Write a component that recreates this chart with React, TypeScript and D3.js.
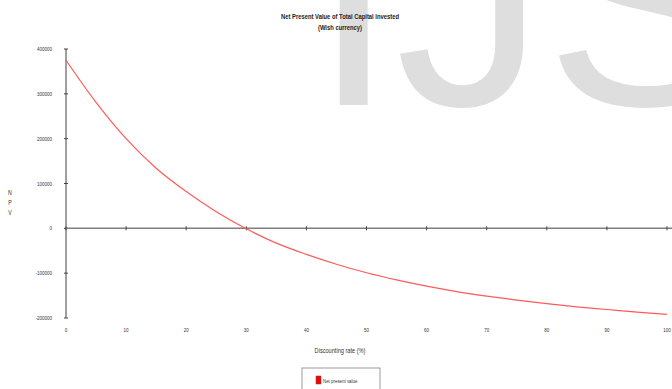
import React from "react";
import * as d3 from "d3";

// Discounting rate (%) and the corresponding net present value
const rates = [0, 5, 10, 15, 20, 25, 30, 35, 40, 45, 50, 55, 60, 65, 70, 75, 80, 85, 90, 95, 100];
const npv = [
  375000, 281000, 200000, 134000, 82000, 37000, -1000, -33000, -58000, -80000,
  -99000, -115000, -129000, -141000, -151000, -160000, -168000, -175000, -181000, -187000, -192000,
];
const xTicks = [0, 10, 20, 30, 40, 50, 60, 70, 80, 90, 100];
const yTicks = [400000, 300000, 200000, 100000, 0, -100000, -200000];

const title1 = "Net Present Value of Total Capital Invested";
const title2 = "(Wish currency)";
const xTitle = "Discounting rate (%)";
const yTitle = ["N", "P", "V"];
const seriesName = "Net present value";

const W = 672;
const H = 389;
const FONT = "'Liberation Sans', Arial, sans-serif";

// Condensed text: the face is squeezed horizontally around its anchor point
function NarrowText(props: {
  x: number;
  y: number;
  size: number;
  anchor?: "start" | "middle" | "end";
  weight?: string;
  fill?: string;
  sx?: number;
  children: React.ReactNode;
}) {
  const { x, y, size, anchor = "start", weight = "normal", fill = "#333", sx = 0.8, children } = props;
  return (
    <text
      transform={`translate(${x},${y}) scale(${sx},1)`}
      textAnchor={anchor}
      fontFamily={FONT}
      fontSize={size}
      fontWeight={weight}
      fill={fill}
    >
      {children}
    </text>
  );
}

export default function App() {
  const x = d3.scaleLinear().domain([0, 100]).range([66, 667]);
  const y = d3.scaleLinear().domain([-200000, 400000]).range([318, 49]);
  const line = d3
    .line<number>()
    .x((_, i) => x(rates[i]))
    .y((d) => y(d))
    .curve(d3.curveMonotoneX);
  const axisColor = "#7f7f7f";

  return (
    <svg
      width={W}
      height={H}
      viewBox={`0 0 ${W} ${H}`}
      style={{ position: "fixed", left: 0, top: 0, background: "#fff" }}
    >
      {/* watermark */}
      <g fill="#dedede" fontFamily={FONT} fontSize={300}>
        <text x={312} y={105}>IJS</text>
      </g>

      {/* title */}
      <NarrowText x={340} y={19} size={7.5} anchor="middle" weight="bold" fill="#222" sx={0.78}>
        {title1}
      </NarrowText>
      <NarrowText x={340} y={30} size={7.5} anchor="middle" weight="bold" fill="#222" sx={0.78}>
        {title2}
      </NarrowText>

      {/* y axis */}
      <line x1={x(0)} x2={x(0)} y1={y(400000)} y2={y(-200000)} stroke={axisColor} strokeWidth={1.5} />
      {yTicks.map((t) => (
        <g key={t}>
          <line x1={x(0) - 2} x2={x(0) + 2} y1={y(t)} y2={y(t)} stroke="#444" strokeWidth={1} />
          <NarrowText x={52} y={y(t) + 2} size={6} anchor="end" sx={0.75}>
            {t}
          </NarrowText>
        </g>
      ))}

      {/* x axis along zero */}
      <line x1={x(0)} x2={W} y1={y(0)} y2={y(0)} stroke={axisColor} strokeWidth={1.5} />
      {xTicks.map((t) => (
        <g key={t}>
          <line x1={x(t)} x2={x(t)} y1={y(0) - 2} y2={y(0) + 2} stroke="#444" strokeWidth={1} />
          <NarrowText x={x(t)} y={332} size={6} anchor="middle" sx={0.75}>
            {t}
          </NarrowText>
        </g>
      ))}

      {/* axis titles */}
      <NarrowText x={340} y={353} size={7.5} anchor="middle" sx={0.75}>
        {xTitle}
      </NarrowText>
      {yTitle.map((c, i) => (
        <NarrowText key={c} x={10} y={195 + i * 10} size={6.5} anchor="middle" sx={0.8}>
          {c}
        </NarrowText>
      ))}

      {/* curve */}
      <path d={line(npv) ?? ""} fill="none" stroke="#ff5a5a" strokeWidth={1.2} />

      {/* legend */}
      <rect x={302} y={368} width={78} height={30} fill="#fff" stroke="#999" strokeWidth={1} />
      <rect x={316} y={376} width={5} height={8} fill="#ff0000" stroke="#555" strokeWidth={0.5} />
      <NarrowText x={323} y={382.5} size={5.5} sx={0.8}>
        {seriesName}
      </NarrowText>
    </svg>
  );
}
